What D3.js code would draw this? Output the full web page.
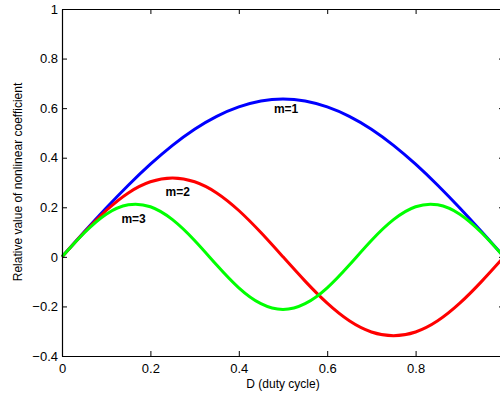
<!DOCTYPE html>
<html>
<head>
<meta charset="utf-8">
<script src="https://cdn.jsdelivr.net/npm/d3@7"></script>
<style>
  html, body { margin: 0; padding: 0; background: #fff; overflow: hidden; }
  svg { display: block; font-family: "Liberation Sans", Arial, sans-serif; }
</style>
</head>
<body>
<svg id="chart" width="500" height="396"></svg>
<script>
// Duty cycle samples and relative nonlinear coefficient for each harmonic order m
const duty = [0, 0.05, 0.1, 0.15, 0.2, 0.25, 0.3, 0.35, 0.4, 0.45, 0.5,
              0.55, 0.6, 0.65, 0.7, 0.75, 0.8, 0.85, 0.9, 0.95, 1];
const m1 = [0, 0.100, 0.197, 0.289, 0.374, 0.450, 0.515, 0.567, 0.605, 0.629, 0.637,
            0.629, 0.605, 0.567, 0.515, 0.450, 0.374, 0.289, 0.197, 0.100, 0];
const m2 = [0, 0.098, 0.187, 0.258, 0.303, 0.318, 0.303, 0.258, 0.187, 0.098, 0,
            -0.098, -0.187, -0.258, -0.303, -0.318, -0.303, -0.258, -0.187, -0.098, 0];
const m3 = [0, 0.096, 0.172, 0.210, 0.202, 0.150, 0.066, -0.033, -0.125, -0.189, -0.212,
            -0.189, -0.125, -0.033, 0.066, 0.150, 0.202, 0.210, 0.172, 0.096, 0];

const seriesNames = ["m=1", "m=2", "m=3"];
const seriesColors = ["#0000ff", "#ff0000", "#00ff00"];
// the tick at D = 1 sits on the right edge of the box, past the visible area, so it carries no label
const xTicks = [0, 0.2, 0.4, 0.6, 0.8, 1];
const xTickLabels = ["0", "0.2", "0.4", "0.6", "0.8", ""];
const yTicks = [-0.4, -0.2, 0, 0.2, 0.4, 0.6, 0.8, 1];
const yTickLabels = ["\u22120.4", "\u22120.2", "0", "0.2", "0.4", "0.6", "0.8", "1"];
// label anchor points (D, value) for each curve
const labelD = [0.507, 0.262, 0.162];
const labelV = [0.58, 0.245, 0.136];

const svg = d3.select("#chart");
const plotLeft = 62, plotTop = 9, plotRight = 504, plotBottom = 356;

const x = d3.scaleLinear().domain([0, 1]).range([plotLeft, plotRight]);
const y = d3.scaleLinear().domain([-0.4, 1]).range([plotBottom, plotTop]);

// curves
const line = d3.line().x((d, i) => x(duty[i])).y(d => y(d)).curve(d3.curveNatural);
[m1, m2, m3].forEach((vals, i) => {
  svg.append("path")
    .attr("d", line(vals))
    .attr("fill", "none")
    .attr("stroke", seriesColors[i])
    .attr("stroke-width", 3)
    .attr("stroke-linejoin", "round");
});

// axes box with inward ticks
const axB = d3.axisBottom(x).tickValues(xTicks).tickSizeInner(-5).tickSizeOuter(0).tickPadding(8)
  .tickFormat((d, i) => xTickLabels[i]);
const axT = d3.axisTop(x).tickValues(xTicks).tickSizeInner(-5).tickSizeOuter(0).tickFormat("");
const axL = d3.axisLeft(y).tickValues(yTicks).tickSizeInner(-5).tickSizeOuter(0).tickPadding(4)
  .tickFormat((d, i) => yTickLabels[i]);
const axR = d3.axisRight(y).tickValues(yTicks).tickSizeInner(-5).tickSizeOuter(0).tickFormat("");

function style(g) {
  g.selectAll(".domain").attr("stroke", "#000").attr("stroke-width", 1.2);
  g.selectAll(".tick line").attr("stroke", "#000");
  g.selectAll(".tick text").attr("fill", "#000").attr("font-size", 13)
    .attr("font-family", "Liberation Sans, Arial, sans-serif");
}
svg.append("g").attr("transform", `translate(0,${plotBottom})`).call(axB).call(style);
svg.append("g").attr("transform", `translate(0,${plotTop})`).call(axT).call(style);
svg.append("g").attr("transform", `translate(${plotLeft},0)`).call(axL).call(style);
svg.append("g").attr("transform", `translate(${plotRight},0)`).call(axR).call(style);

// curve labels
seriesNames.forEach((n, i) => {
  svg.append("text")
    .attr("x", x(labelD[i])).attr("y", y(labelV[i]))
    .attr("text-anchor", "middle")
    .attr("font-size", 12).attr("font-weight", "bold")
    .text(n);
});

// axis titles
svg.append("text")
  .attr("x", 283).attr("y", 388)
  .attr("text-anchor", "middle").attr("font-size", 12)
  .text("D (duty cycle)");
svg.append("text")
  .attr("transform", "translate(22,182) rotate(-90)")
  .attr("text-anchor", "middle").attr("font-size", 12)
  .text("Relative value of nonlinear coefficient");
</script>
</body>
</html>
